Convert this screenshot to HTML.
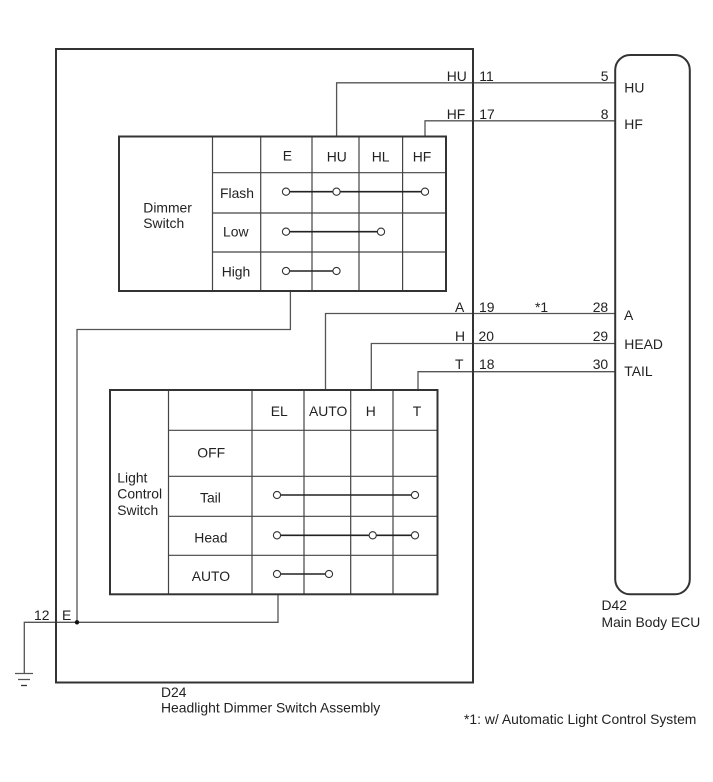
<!DOCTYPE html>
<html>
<head>
<meta charset="utf-8">
<style>
html,body{margin:0;padding:0;background:#fff;width:713px;height:782px;overflow:hidden}
svg{display:block}
text{font-family:"Liberation Sans",sans-serif;font-size:13.9px;fill:#222}
.o{fill:none;stroke:#333;stroke-width:2}
.g{fill:none;stroke:#444;stroke-width:1.2}
.w{fill:none;stroke:#555;stroke-width:1.3}
.c{fill:none;stroke:#222;stroke-width:1.6}
.n{fill:#fff;stroke:#333;stroke-width:1.1}
</style>
</head>
<body>
<svg width="713" height="782" viewBox="0 0 713 782" xmlns="http://www.w3.org/2000/svg">
<!-- wires -->
<path class="w" d="M336.6 136V82.8H615"/>
<path class="w" d="M425 136V120.8H615"/>
<path class="w" d="M325.5 390V313.5H615"/>
<path class="w" d="M371.3 390V343.5H615"/>
<path class="w" d="M418 390V371.7H615"/>
<path class="w" d="M290.4 291V329.5H77V622.3"/>
<path class="w" d="M278 594V622.3H24.3V673"/>
<circle cx="77" cy="622.3" r="2.2" fill="#111"/>
<path class="w" d="M15 673.5H33M18 679.5H30"/>
<path d="M21 685.5H27" fill="none" stroke="#333" stroke-width="1.3"/>
<!-- outer -->
<rect class="o" x="56" y="49" width="417" height="633.5"/>
<rect class="o" x="615.2" y="55" width="74.6" height="539.3" rx="15" ry="15" fill="#fff"/>
<!-- dimmer table -->
<path class="g" d="M212.5 136V291M260.7 136V291M312 136V291M359 136V291M402.6 136V291M212.5 172.7H446M212.5 213H446M212.5 252H446"/>
<rect class="o" x="119" y="136.5" width="327" height="154.5"/>
<path class="c" d="M286 191.7H425M286 231.7H381M286 271H336.5"/>
<circle class="n" cx="286" cy="191.7" r="3.6"/><circle class="n" cx="336.5" cy="191.7" r="3.6"/><circle class="n" cx="425" cy="191.7" r="3.6"/>
<circle class="n" cx="286" cy="231.7" r="3.6"/><circle class="n" cx="381" cy="231.7" r="3.6"/>
<circle class="n" cx="286" cy="271" r="3.6"/><circle class="n" cx="336.5" cy="271" r="3.6"/>
<!-- light table -->
<path class="g" d="M168.5 390V594M252 390V594M304 390V594M350.7 390V594M393 390V594M168.5 430.3H437.5M168.5 476.3H437.5M168.5 516.3H437.5M168.5 555.3H437.5"/>
<rect class="o" x="110" y="390" width="327.5" height="204.3"/>
<path class="c" d="M277 495H415M277 535.3H415M277 574H329"/>
<circle class="n" cx="277" cy="495" r="3.6"/><circle class="n" cx="415" cy="495" r="3.6"/>
<circle class="n" cx="277" cy="535.3" r="3.6"/><circle class="n" cx="372.7" cy="535.3" r="3.6"/><circle class="n" cx="415" cy="535.3" r="3.6"/>
<circle class="n" cx="277" cy="574" r="3.6"/><circle class="n" cx="329" cy="574" r="3.6"/>
<!-- dimmer labels -->
<text x="143.3" y="212.3">Dimmer</text><text x="143.3" y="228">Switch</text>
<text x="220" y="198">Flash</text><text x="223" y="236.7">Low</text><text x="221.7" y="276.7">High</text>
<text x="282.7" y="160.7">E</text><text x="326.7" y="161.7">HU</text><text x="371.7" y="161.7">HL</text><text x="412.7" y="161.7">HF</text>
<!-- light labels -->
<text x="117.3" y="482.3">Light</text><text x="117.3" y="498.7">Control</text><text x="117.3" y="515">Switch</text>
<text x="197.3" y="457.7">OFF</text><text x="200" y="502.3">Tail</text><text x="194.3" y="542.3">Head</text><text x="191.7" y="581">AUTO</text>
<text x="270.7" y="416">EL</text><text x="309" y="416">AUTO</text><text x="365.7" y="416">H</text><text x="412.7" y="416">T</text>
<!-- pins -->
<text x="446.7" y="81">HU</text><text x="479.3" y="81">11</text><text x="600.7" y="81">5</text><text x="624.3" y="92.3">HU</text>
<text x="446.7" y="119">HF</text><text x="479.3" y="119">17</text><text x="600.7" y="119">8</text><text x="624.3" y="129">HF</text>
<text x="455" y="312">A</text><text x="479" y="312">19</text><text x="535" y="312">*1</text><text x="592.7" y="312">28</text><text x="624" y="320">A</text>
<text x="455" y="341">H</text><text x="478.5" y="341">20</text><text x="592.7" y="341">29</text><text x="624.3" y="349">HEAD</text>
<text x="455" y="369">T</text><text x="479" y="369">18</text><text x="592.7" y="369">30</text><text x="624.3" y="376">TAIL</text>
<text x="34" y="620">12</text><text x="62" y="620">E</text>
<!-- captions -->
<text x="161" y="697">D24</text><text x="161" y="712.7">Headlight Dimmer Switch Assembly</text>
<text x="601.5" y="610">D42</text><text x="601.5" y="627">Main Body ECU</text>
<text x="464" y="724">*1: w/ Automatic Light Control System</text>
</svg>
</body>
</html>
